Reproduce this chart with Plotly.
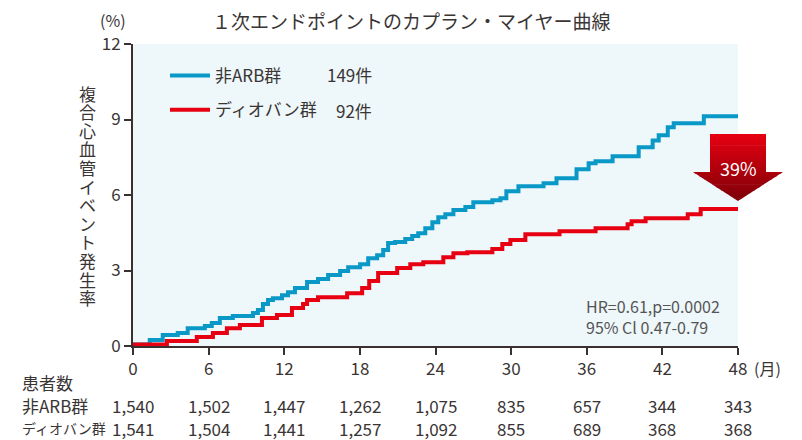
import plotly.graph_objects as go

# Kaplan-Meier step points (month, cumulative incidence %)
arb_months = [0, 1.33, 2.36, 3.55, 4.34, 5.7, 6.25, 6.89, 7.92, 9.52, 9.91, 10.31, 10.71, 11.1,
              11.82, 12.3, 12.85, 13.81, 14.68, 15.48, 16.43, 17.07, 18.02, 18.66, 19.37, 19.85,
              20.24, 20.8, 21.6, 22.15, 22.63, 23.19, 23.75, 24.22, 24.78, 25.42, 26.37, 27.0,
              28.51, 29.15, 29.62, 30.58, 32.57, 33.6, 35.19, 36.15, 36.7, 38.05, 40.12, 41.23,
              41.71, 42.43, 42.9, 45.29, 48]
arb_rate = [0.06, 0.24, 0.44, 0.52, 0.71, 0.79, 0.91, 1.11, 1.19, 1.31, 1.43, 1.67, 1.83, 1.9,
            2.02, 2.14, 2.3, 2.54, 2.66, 2.82, 2.98, 3.13, 3.25, 3.49, 3.61, 3.81,
            4.09, 4.13, 4.25, 4.37, 4.48, 4.68, 4.92, 5.12, 5.24, 5.4, 5.52, 5.71,
            5.79, 5.87, 6.15, 6.35, 6.47, 6.67, 7.02, 7.26, 7.34, 7.54, 7.9, 8.17,
            8.37, 8.69, 8.85, 9.13, 9.13]

val_months = [0, 2.69, 5.06, 6.34, 7.45, 8.48, 10.23, 11.42, 12.61, 13.49, 13.81, 14.68, 16.99,
              18.18, 18.74, 19.45, 20.96, 22.0, 23.03, 24.62, 25.42, 26.53, 28.51, 29.3, 29.94,
              31.13, 33.84, 36.7, 39.24, 39.56, 40.67, 44.01, 45.04, 48]
val_rate = [0.06, 0.2, 0.36, 0.52, 0.71, 0.83, 1.11, 1.23, 1.51, 1.67, 1.83, 1.94, 2.1,
            2.3, 2.58, 2.9, 3.1, 3.25, 3.33, 3.53, 3.69, 3.73, 3.85, 4.05, 4.21,
            4.44, 4.56, 4.68, 4.84, 4.96, 5.08, 5.24, 5.44, 5.44]

series_names = ["非ARB群", "ディオバン群"]
event_counts = ["149件", "92件"]
tick_months = [0, 6, 12, 18, 24, 30, 36, 42, 48]
at_risk_arb = ["1,540", "1,502", "1,447", "1,262", "1,075", "835", "657", "344", "343"]
at_risk_val = ["1,541", "1,504", "1,441", "1,257", "1,092", "855", "689", "368", "368"]
y_title = "複合心血管イベント発生率"
reduction = "39%"

BLUE = "#0a99c6"
RED = "#e60012"
TXT = "#3a3535"
FONT = "Noto Sans CJK JP"

W, H = 802, 440
L, R, T, B = 133, 738, 44, 346   # plot area in screen pixels
OFF = 8                          # page body margin


def px(x):
    return (x - L) / (R - L)


def py(y):
    return (B - y) / (B - T)


def note(text, x, y, size=16, color=TXT, xanchor="center", xref="paper", **kw):
    return dict(text=text, x=x, y=y, xref=xref, yref="paper", xanchor=xanchor,
                yanchor="middle", showarrow=False, font=dict(size=size, color=color), **kw)


fig = go.Figure()
fig.add_trace(go.Scatter(x=arb_months, y=arb_rate, mode="lines", line_shape="hv",
                         line=dict(color=BLUE, width=4), name=series_names[0],
                         legendgroup="a"))
fig.add_trace(go.Scatter(x=val_months, y=val_rate, mode="lines", line_shape="hv",
                         line=dict(color=RED, width=4), name=series_names[1],
                         legendgroup="b"))

ann = []
ann.append(note("１次エンドポイントのカプラン・マイヤー曲線", px(411), py(21), size=19))
ann.append(note("(%)", px(113), py(20)))
ann.append(note("(月)", px(752), py(368), xanchor="left"))
for i, ch in enumerate(y_title):
    ann.append(note(ch, px(87), py(93 + i * 18.6), size=17))
for i, c in enumerate(event_counts):
    ann.append(note(c, px(374), py(75 + i * 35), size=17, xanchor="right"))
ann.append(note("HR=0.61,p=0.0002<br>95% Cl 0.47-0.79", px(584), py(316), size=16,
                color="#555", xanchor="left", align="left"))
ann.append(note("患者数", px(20), py(382), size=17, xanchor="left"))
ann.append(note(series_names[0], px(20), py(406), size=17, xanchor="left"))
ann.append(note(series_names[1], px(20), py(428), size=14, xanchor="left"))
for m, a, v in zip(tick_months, at_risk_arb, at_risk_val):
    ann.append(note(a, m, py(406), size=17, xref="x"))
    ann.append(note(v, m, py(428), size=17, xref="x"))
ann.append(note(reduction, px(738), py(168), size=18, color="white"))

# arrow with vertical gradient, built as horizontal bands
top, neck, tip = 134, 172, 201
sl, sr, hl, hr, cx = 710, 766, 693, 783, 738
c0, c1 = (232, 0, 18), (125, 0, 8)


def half(y):
    if y <= neck:
        return sl, sr
    f = (y - neck) / (tip - neck)
    return hl + (cx - hl) * f, hr - (hr - cx) * f


shapes = []
n = 24
for k in range(n):
    y0 = top + (tip - top) * k / n
    y1 = min(top + (tip - top) * (k + 1) / n + 0.6, tip)
    t = (k + 0.5) / n
    col = "rgb(%d,%d,%d)" % tuple(int(c0[j] + (c1[j] - c0[j]) * t) for j in range(3))
    if y0 < neck < y1:
        c, d = half(y1)
        pts = [(sl, y0), (sr, y0), (sr, neck), (hr, neck), (d, y1), (c, y1), (hl, neck),
               (sl, neck)]
    else:
        a, b = half(y0)
        c, d = half(y1)
        pts = [(a, y0), (b, y0), (d, y1), (c, y1)]
    path = "M " + " L ".join("%.4f,%.4f" % (px(x), py(y)) for x, y in pts) + " Z"
    shapes.append(dict(type="path", path=path, xref="paper", yref="paper",
                       fillcolor=col, line=dict(width=0), layer="above"))

fig.update_layout(
    width=W, height=H,
    margin=dict(l=L - OFF, r=W - (R - OFF), t=T - OFF, b=H - (B - OFF), autoexpand=False),
    paper_bgcolor="white", plot_bgcolor="#eef7fa",
    font=dict(family=FONT, color=TXT, size=16),
    showlegend=True,
    legend=dict(x=px(165), y=py(58), xanchor="left", yanchor="top",
                bgcolor="rgba(0,0,0,0)", font=dict(size=17, color=TXT),
                tracegroupgap=9, itemwidth=40),
    annotations=ann, shapes=shapes,
)
fig.update_xaxes(range=[0, 48], tickvals=tick_months, showgrid=False, zeroline=False,
                 showline=True, linecolor="#3a3030", linewidth=2, ticks="outside",
                 ticklen=7, tickwidth=1.5, tickcolor="#3a3030", tickfont=dict(size=17))
fig.update_yaxes(range=[0, 12], tickvals=[0, 3, 6, 9, 12], showgrid=False, zeroline=False,
                 showline=True, linecolor="#3a3030", linewidth=2, ticks="outside",
                 ticklen=7, tickwidth=1.5, tickcolor="#3a3030", tickfont=dict(size=17))

fig.write_html("out.html")
